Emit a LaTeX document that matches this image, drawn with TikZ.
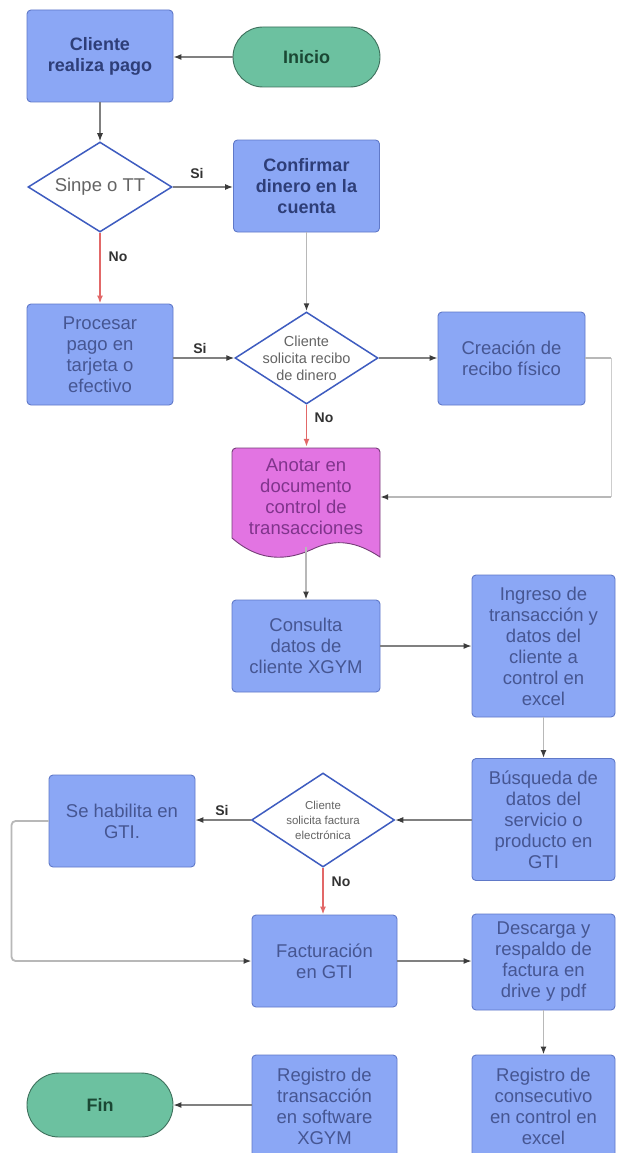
\documentclass[tikz,border=0pt]{standalone}
\usepackage{fontspec}
\setmainfont{Liberation Sans}
\usetikzlibrary{shapes.geometric,arrows.meta}

\definecolor{boxfill}{RGB}{139,167,245}
\definecolor{boxline}{RGB}{96,121,200}
\definecolor{boxtext}{RGB}{70,86,146}
\definecolor{boxtextdark}{RGB}{46,62,120}
\definecolor{termfill}{RGB}{108,193,160}
\definecolor{termline}{RGB}{62,112,92}
\definecolor{termtext}{RGB}{26,72,52}
\definecolor{docfill}{RGB}{226,116,226}
\definecolor{docline}{RGB}{118,62,120}
\definecolor{doctext}{RGB}{128,52,140}
\definecolor{decline}{RGB}{62,92,192}
\definecolor{dectext}{RGB}{100,100,100}
\definecolor{flowgray}{RGB}{128,128,128}
\definecolor{lightgray}{RGB}{184,184,184}
\definecolor{tipgray}{RGB}{60,60,60}
\definecolor{nored}{RGB}{226,104,104}
\definecolor{lbltext}{RGB}{50,50,50}

\begin{document}
\begin{tikzpicture}[x=1pt,y=-1pt,
  proc/.style={draw=boxline, fill=boxfill, line width=0.9pt, rounded corners=4pt,
    minimum width=146pt, minimum height=92pt, inner sep=2pt, align=center,
    text=boxtext, font=\fontsize{18.5}{21}\selectfont},
  procbold/.style={proc, text=boxtextdark, font=\fontsize{18}{21}\selectfont\bfseries},
  term/.style={draw=termline, fill=termfill, line width=0.9pt, rounded corners=30pt,
    minimum width=147pt, minimum height=60pt, inner sep=0pt,
    text=termtext, font=\fontsize{18}{21}\selectfont\bfseries},
  decision/.style={diamond, draw=decline, fill=white, line width=1.5pt,
    minimum width=144pt, minimum height=92pt, inner sep=0pt},
  dtext/.style={align=center, text=dectext, inner sep=0pt},
  flow/.style={draw=flowgray, line width=1.2pt, -{Latex[length=8pt,width=6pt,color=tipgray]}},
  lightflow/.style={draw=lightgray, line width=1.8pt, -{Latex[length=8pt,width=6pt,color=tipgray]}},
  noflow/.style={draw=nored, line width=1.6pt, -{Latex[length=8pt,width=6pt]}},
  lbl/.style={text=lbltext, font=\fontsize{14}{16}\selectfont\bfseries, inner sep=0pt}
]
\clip (0,0) rectangle (616,1153);
\fill[white] (0,0) rectangle (616,1153);

% ---- nodes ----
\node[procbold] (cliente) at (100,56) {Cliente\\realiza pago};
\node[term] (inicio) at (306.5,57) {Inicio};

\node[decision, minimum height=90pt,
  label={[dtext, font=\fontsize{18.5}{21}\selectfont]center:Sinpe o TT}] (sinpe) at (100,187) {};
\node[procbold] (confirmar) at (306.5,186) {Confirmar\\dinero en la\\cuenta};

\node[proc, minimum height=101pt] (procesar) at (100,354.5) {Procesar\\pago en\\tarjeta o\\efectivo};
\node[decision, minimum width=143pt,
  label={[dtext, font=\fontsize{14.5}{17}\selectfont]center:Cliente\\solicita recibo\\de dinero}] (d1) at (306.5,358) {};
\node[proc, minimum width=147pt, minimum height=93pt] (creacion) at (511.5,358.5) {Creación de\\recibo físico};

% document shape with wavy bottom edge
\draw[draw=docline, fill=docfill, line width=0.9pt]
  (380,557) .. controls (356,541) and (336,539) .. (315,548)
            .. controls (294,558) and (264,566) .. (232,538)
  [rounded corners=4pt] -- (232,448) -- (380,448) [sharp corners] -- cycle;
\node[align=center, text=doctext, font=\fontsize{18.5}{21}\selectfont,
  minimum width=148pt, minimum height=100pt, inner sep=0pt] (anotar) at (306,497)
  {Anotar en\\documento\\control de\\transacciones};

\node[proc, minimum width=148pt] (consulta) at (306,646) {Consulta\\datos de\\cliente XGYM};
\node[proc, minimum width=143pt, minimum height=142pt] (ingreso) at (543.5,646)
  {Ingreso de\\transacción y\\datos del\\cliente a\\control en\\excel};

\node[proc, minimum width=143pt, minimum height=122pt] (busqueda) at (543.5,819.5)
  {Búsqueda de\\datos del\\servicio o\\producto en\\GTI};
\node[decision, minimum width=143pt, minimum height=94pt,
  label={[dtext, font=\fontsize{11.5}{15}\selectfont]center:Cliente\\solicita factura\\electrónica}] (d2) at (323,820) {};
\node[proc] (sehabilita) at (122,821) {Se habilita en\\GTI.};

\node[proc, minimum width=145pt] (facturacion) at (324.5,961) {Facturación\\en GTI};
\node[proc, minimum width=143pt, minimum height=96pt] (descarga) at (543.5,962)
  {Descarga y\\respaldo de\\factura en\\drive y pdf};

\node[proc, minimum width=145pt, minimum height=102pt] (regtrans) at (324.5,1106)
  {Registro de\\transacción\\en software\\XGYM};
\node[proc, minimum width=143pt, minimum height=102pt] (regcons) at (543.5,1106)
  {Registro de\\consecutivo\\en control en\\excel};
\node[term, minimum width=146pt, minimum height=64pt, rounded corners=32pt] (fin) at (100,1105) {Fin};

% ---- connectors (kept horizontal / vertical) ----
\draw[flow] (inicio.west) -- (inicio.west -| cliente.east);
\draw[flow] (cliente.south) -- (sinpe.north);
\draw[flow] (sinpe.east) -- (sinpe.east -| confirmar.west);
\draw[noflow] (sinpe.south) -- (procesar.north);
\draw[lightflow] (confirmar.south -| d1.north) -- (d1.north);
\draw[flow] (procesar.east |- d1.west) -- (d1.west);
\draw[flow] (d1.east) -- (d1.east -| creacion.west);
\draw[noflow] (d1.south) -- (d1.south |- anotar.north);
\draw[draw=lightgray, line width=1.4pt] (creacion.east |- d1.east) -- ++(26,0) coordinate (loopr);
\draw[draw=lightgray!70, line width=1.2pt] (loopr) -- (loopr |- anotar.east) coordinate (loopd);
\draw[lightflow] (loopd) -- (anotar.east);
\draw[lightflow] (anotar.south) -- (consulta.north);
\draw[flow] (consulta.east) -- (ingreso.west);
\draw[lightflow] (ingreso.south) -- (busqueda.north);
\draw[flow] (busqueda.west |- d2.east) -- (d2.east);
\draw[flow] (d2.west) -- (d2.west -| sehabilita.east);
\draw[noflow] (d2.south) -- (d2.south |- facturacion.north);
\draw[lightflow, rounded corners=4pt] (sehabilita.west) -- ++(-37,0) |- (facturacion.west);
\draw[flow] (facturacion.east) -- (facturacion.east -| descarga.west);
\draw[lightflow] (descarga.south) -- (regcons.north);
\draw[flow] (regtrans.west |- fin.east) -- (fin.east);

% ---- branch labels ----
\node[lbl] (lsi1) at (197,173) {Si};
\node[lbl] (lno1) at (118,257) {No};
\node[lbl] (lsi2) at (200,348) {Si};
\node[lbl] (lno2) at (324,418) {No};
\node[lbl] (lsi3) at (222,810) {Si};
\node[lbl] (lno3) at (341,882) {No};
\end{tikzpicture}
\end{document}
